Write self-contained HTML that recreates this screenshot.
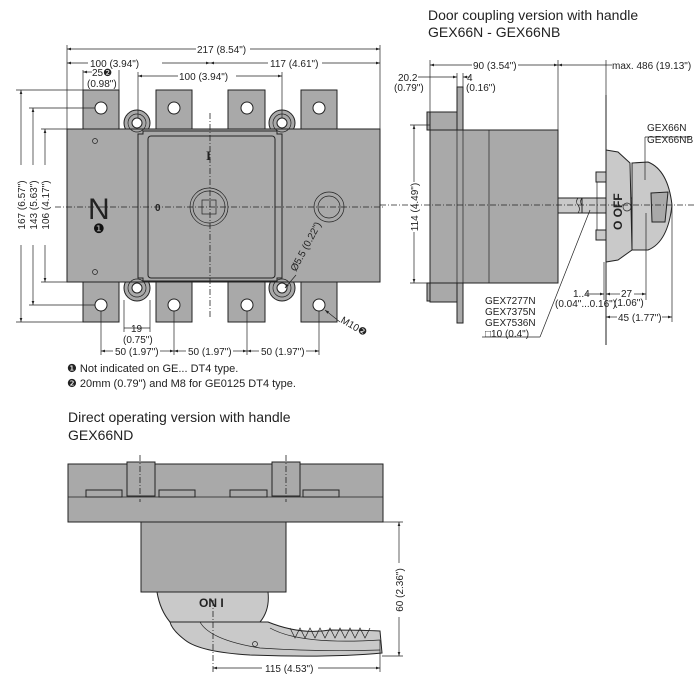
<!DOCTYPE html>
<html><head><meta charset="utf-8"><style>
html,body{margin:0;padding:0;background:#fff;}
svg{display:block;font-family:"Liberation Sans",sans-serif;}
.g{fill:#a9a9a9;stroke:#222;stroke-width:1}
.l{fill:#c9c9c9;stroke:#222;stroke-width:1}
.d{stroke:#222;stroke-width:0.7;fill:none}
.c{stroke:#222;stroke-width:0.8;fill:none;stroke-dasharray:6 2 1 2}
.t{font-size:10px;fill:#222}
</style></head><body>
<svg width="700" height="686" viewBox="0 0 700 686" xmlns="http://www.w3.org/2000/svg">
<defs><marker id="a" viewBox="0 0 6 6" refX="6" refY="3" markerWidth="6" markerHeight="6" orient="auto-start-reverse"><path d="M0,1 L6,3 L0,5z" fill="#222"/></marker></defs>

<!-- ===== FRONT VIEW ===== -->
<g>
<rect class="g" x="83" y="90" width="36" height="40"/>
<rect class="g" x="156" y="90" width="36" height="40"/>
<rect class="g" x="228" y="90" width="37" height="40"/>
<rect class="g" x="301" y="90" width="36" height="40"/>
<rect class="g" x="83" y="281" width="36" height="41"/>
<rect class="g" x="156" y="281" width="36" height="41"/>
<rect class="g" x="228" y="281" width="37" height="41"/>
<rect class="g" x="301" y="281" width="36" height="41"/>
<circle class="g" cx="137" cy="123" r="13"/><circle class="g" cx="282" cy="123" r="13"/>
<circle class="g" cx="137" cy="288" r="13"/><circle class="g" cx="282" cy="288" r="13"/>
<rect class="g" x="67" y="129" width="313" height="153"/>
<path class="g" d="M138,134 h5 v-3 h134 v3 h5 v144 h-5 v3 h-134 v-3 h-5z"/>
<rect class="g" x="148" y="136" width="127" height="142" rx="3"/>
<g fill="#fff" stroke="#222">
<circle cx="101" cy="108" r="6"/><circle cx="174" cy="108" r="6"/><circle cx="247" cy="108" r="6"/><circle cx="319" cy="108" r="6"/>
<circle cx="101" cy="305" r="6"/><circle cx="174" cy="305" r="6"/><circle cx="247" cy="305" r="6"/><circle cx="319" cy="305" r="6"/>
<circle cx="137" cy="123" r="5"/><circle cx="282" cy="123" r="5"/><circle cx="137" cy="288" r="5"/><circle cx="282" cy="288" r="5"/>
</g>
<g class="d"><circle cx="137" cy="123" r="9"/><circle cx="282" cy="123" r="9"/><circle cx="137" cy="288" r="9"/><circle cx="282" cy="288" r="9"/>
<circle cx="95" cy="141" r="2.5"/><circle cx="95" cy="272" r="2.5"/>
<circle cx="209" cy="207" r="19"/><circle cx="209" cy="207" r="16"/><rect x="202" y="200" width="14" height="14"/>
<circle cx="329" cy="207" r="15"/><circle cx="329" cy="207" r="11"/></g>
<line class="c" x1="55" y1="207" x2="385" y2="207"/>
<line class="c" x1="210" y1="113" x2="210" y2="318"/>
<text x="88" y="219" font-size="30" fill="#222">N</text>
<text x="93" y="233" font-size="13" fill="#111">❶</text>
<text x="206" y="160" font-size="13" font-weight="bold" font-family="Liberation Serif" fill="#222">I</text>
<text x="155" y="211" font-size="10" font-weight="bold" fill="#222">0</text>

<!-- dims -->
<g class="d">
<line x1="67" y1="45" x2="67" y2="129"/><line x1="380" y1="45" x2="380" y2="129"/>
<line x1="67" y1="49" x2="196" y2="49" marker-start="url(#a)"/><line x1="250" y1="49" x2="380" y2="49" marker-end="url(#a)"/>
<line x1="67" y1="63" x2="88" y2="63" marker-start="url(#a)"/><line x1="162" y1="63" x2="210" y2="63" marker-end="url(#a)"/>
<line x1="210" y1="63" x2="268" y2="63" marker-start="url(#a)"/><line x1="322" y1="63" x2="380" y2="63" marker-end="url(#a)"/>
<line x1="138" y1="72" x2="138" y2="118"/><line x1="282" y1="72" x2="282" y2="118"/>
<line x1="138" y1="76" x2="178" y2="76" marker-start="url(#a)"/><line x1="236" y1="76" x2="282" y2="76" marker-end="url(#a)"/>
<line x1="83" y1="70" x2="83" y2="90"/><line x1="119" y1="70" x2="119" y2="90"/>
<line x1="83" y1="72" x2="92" y2="72" marker-start="url(#a)"/>
<line x1="16" y1="90" x2="83" y2="90"/><line x1="16" y1="322" x2="83" y2="322"/>
<line x1="21" y1="90" x2="21" y2="165" marker-start="url(#a)"/><line x1="21" y1="245" x2="21" y2="322" marker-end="url(#a)"/>
<line x1="29" y1="108" x2="95" y2="108"/><line x1="29" y1="305" x2="95" y2="305"/>
<line x1="33" y1="108" x2="33" y2="165" marker-start="url(#a)"/><line x1="33" y1="245" x2="33" y2="305" marker-end="url(#a)"/>
<line x1="41" y1="129" x2="67" y2="129"/><line x1="41" y1="282" x2="67" y2="282"/>
<line x1="45" y1="129" x2="45" y2="165" marker-start="url(#a)"/><line x1="45" y1="245" x2="45" y2="282" marker-end="url(#a)"/>
<line x1="124" y1="300" x2="124" y2="332"/><line x1="150" y1="300" x2="150" y2="332"/>
<line x1="124" y1="328" x2="150" y2="328"/>
<line x1="101" y1="311" x2="101" y2="355"/><line x1="174" y1="311" x2="174" y2="355"/><line x1="247" y1="311" x2="247" y2="355"/><line x1="319" y1="311" x2="319" y2="355"/>
<line x1="101" y1="351" x2="113" y2="351" marker-start="url(#a)"/><line x1="160" y1="351" x2="174" y2="351" marker-end="url(#a)"/>
<line x1="174" y1="351" x2="186" y2="351" marker-start="url(#a)"/><line x1="233" y1="351" x2="247" y2="351" marker-end="url(#a)"/>
<line x1="247" y1="351" x2="259" y2="351" marker-start="url(#a)"/><line x1="306" y1="351" x2="319" y2="351" marker-end="url(#a)"/>
<line x1="340" y1="322" x2="325" y2="310" marker-end="url(#a)"/>
<line x1="296" y1="275" x2="285" y2="288" marker-end="url(#a)"/>
</g>
<text class="t" x="197" y="53">217 (8.54")</text>
<text class="t" x="90" y="67">100 (3.94")</text>
<text class="t" x="270" y="67">117 (4.61")</text>
<text class="t" x="179" y="80">100 (3.94")</text>
<text class="t" x="92" y="76">25❷</text>
<text class="t" x="87" y="87">(0.98")</text>
<text class="t" transform="translate(25,205) rotate(-90)" text-anchor="middle">167 (6.57")</text>
<text class="t" transform="translate(37,205) rotate(-90)" text-anchor="middle">143 (5.63")</text>
<text class="t" transform="translate(49,205) rotate(-90)" text-anchor="middle">106 (4.17")</text>
<text class="t" x="131" y="332">19</text>
<text class="t" x="123" y="343">(0.75")</text>
<text class="t" x="115" y="355">50 (1.97")</text>
<text class="t" x="188" y="355">50 (1.97")</text>
<text class="t" x="261" y="355">50 (1.97")</text>
<text class="t" transform="translate(340,322) rotate(30)">M10❷</text>
<text class="t" transform="translate(296,272) rotate(-62)">Ø5.5 (0.22")</text>
<text x="67" y="372" font-size="11" fill="#222">❶ Not indicated on GE... DT4 type.</text>
<text x="67" y="387" font-size="11" fill="#222">❷ 20mm (0.79") and M8 for GE0125 DT4 type.</text>
</g>

<!-- ===== SIDE VIEW ===== -->
<g>
<text x="428" y="20" font-size="14" fill="#222">Door coupling version with handle</text>
<text x="428" y="37" font-size="14" fill="#222">GEX66N - GEX66NB</text>
<rect class="g" x="427" y="112" width="4" height="18"/><rect class="g" x="427" y="283" width="4" height="18"/>
<rect class="g" x="430" y="112" width="27" height="190"/>
<rect class="g" x="457" y="87" width="6" height="236"/>
<rect class="g" x="430" y="130" width="128" height="153"/>
<line class="d" x1="457" y1="130" x2="457" y2="283"/><line class="d" x1="463" y1="130" x2="463" y2="283"/><line class="d" x1="489" y1="130" x2="489" y2="283"/>
<rect class="l" x="558" y="198" width="40" height="15"/>
<path d="M578,198 q-3,4 0,7 q3,4 0,8" class="d"/>
<path d="M582,198 q-3,4 0,7 q3,4 0,8" class="d"/>
<rect class="l" x="582" y="198" width="64" height="15" stroke="#222"/>
<line x1="606" y1="95" x2="606" y2="345" stroke="#222" stroke-width="1"/>
<rect class="l" x="596" y="172" width="10" height="10"/><rect class="l" x="596" y="230" width="10" height="10"/>
<line class="d" x1="597" y1="182" x2="597" y2="230"/>
<path class="l" d="M606,150 L618,152 L630,163 L632,250 L618,260 L606,262z"/>
<path class="l" d="M632,163 L648,162 Q668,170 672,205 Q668,242 648,250 L632,250z"/>
<path class="g" d="M651,193 L668,192 L665,222 L652,222z"/>
<line class="d" x1="632" y1="163" x2="632" y2="250"/>
<circle class="d" cx="627" cy="207" r="4"/>
<text transform="translate(622,230) rotate(-90)" font-size="12" font-weight="bold" fill="#222">O OFF</text>
<line class="c" x1="380" y1="205" x2="695" y2="205"/>
<g class="d">
<line x1="430" y1="60" x2="430" y2="112"/><line x1="558" y1="60" x2="558" y2="130"/><line x1="606" y1="60" x2="606" y2="130"/>
<line x1="430" y1="65" x2="472" y2="65" marker-start="url(#a)"/><line x1="518" y1="65" x2="558" y2="65" marker-end="url(#a)"/>
<line x1="558" y1="65" x2="606" y2="65" marker-start="url(#a)"/><line x1="606" y1="65" x2="612" y2="65"/>
<line x1="457" y1="73" x2="457" y2="87"/><line x1="463" y1="73" x2="463" y2="87"/>
<line x1="418" y1="77" x2="457" y2="77" marker-end="url(#a)"/><line x1="463" y1="77" x2="470" y2="77" marker-start="url(#a)"/>
<line x1="410" y1="125" x2="430" y2="125"/><line x1="410" y1="283" x2="430" y2="283"/>
<line x1="414" y1="125" x2="414" y2="182" marker-start="url(#a)"/><line x1="414" y1="232" x2="414" y2="283" marker-end="url(#a)"/>
<line x1="646" y1="213" x2="646" y2="300"/><line x1="672" y1="205" x2="672" y2="322"/><line x1="606" y1="262" x2="606" y2="320"/><line x1="604" y1="262" x2="604" y2="300"/>
<line x1="585" y1="294" x2="604" y2="294" marker-end="url(#a)"/>
<line x1="606" y1="294" x2="620" y2="294" marker-start="url(#a)"/><line x1="634" y1="294" x2="646" y2="294" marker-end="url(#a)"/>
<line x1="606" y1="317" x2="617" y2="317" marker-start="url(#a)"/><line x1="662" y1="317" x2="672" y2="317" marker-end="url(#a)"/>
<line x1="645" y1="137" x2="690" y2="137"/><line x1="645" y1="137" x2="645" y2="180"/>
<line x1="482" y1="337" x2="540" y2="337"/><line x1="540" y1="337" x2="590" y2="210"/>
</g>
<text class="t" x="473" y="69">90 (3.54")</text>
<text class="t" x="612" y="69">max. 486 (19.13")</text>
<text class="t" x="398" y="81">20.2</text>
<text class="t" x="394" y="91">(0.79")</text>
<text class="t" x="467" y="81">4</text>
<text class="t" x="466" y="91">(0.16")</text>
<text class="t" transform="translate(418,207) rotate(-90)" text-anchor="middle">114 (4.49")</text>
<text class="t" x="647" y="131">GEX66N</text>
<text class="t" x="647" y="143">GEX66NB</text>
<text class="t" x="573" y="297">1..4</text>
<text class="t" x="555" y="307">(0.04"...0.16")</text>
<text class="t" x="621" y="297">27</text>
<text class="t" x="614" y="306">(1.06")</text>
<text class="t" x="618" y="321">45 (1.77")</text>
<text class="t" x="485" y="304">GEX7277N</text>
<text class="t" x="485" y="315">GEX7375N</text>
<text class="t" x="485" y="326">GEX7536N</text>
<text class="t" x="485" y="337">□10 (0.4")</text>
</g>

<!-- ===== BOTTOM VIEW ===== -->
<g>
<text x="68" y="422" font-size="14" fill="#222">Direct operating version with handle</text>
<text x="68" y="440" font-size="14" fill="#222">GEX66ND</text>
<rect class="g" x="68" y="464" width="315" height="58"/>
<line class="d" x1="68" y1="497" x2="383" y2="497"/>
<rect class="g" x="86" y="490" width="36" height="7"/><rect class="g" x="159" y="490" width="36" height="7"/>
<rect class="g" x="230" y="490" width="37" height="7"/><rect class="g" x="303" y="490" width="36" height="7"/>
<rect class="g" x="127" y="462" width="28" height="34"/><rect class="g" x="272" y="462" width="28" height="34"/>
<line class="c" x1="140" y1="455" x2="140" y2="502"/><line class="c" x1="286" y1="455" x2="286" y2="502"/>
<rect class="g" x="141" y="522" width="145" height="70"/>
<path class="l" d="M157,592 L268,592 Q270,610 260,622 L170,622 Q160,610 157,592z"/>
<path class="l" d="M170,622 L268,622 Q300,635 330,630 Q360,630 380,631 L382,653 Q330,658 250,655 Q200,652 185,640 Q172,630 170,622z"/>
<path d="M270,628 Q300,645 380,640" class="d"/>
<path d="M200,622 Q210,640 260,648 Q320,652 380,650" class="d"/>
<path d="M290,628 l5,10 l5,-10 l5,10 l5,-10 l5,10 l5,-10 l5,10 l5,-10 l5,10 l5,-10 l5,10 l5,-10 l5,10 l5,-10 l5,10 l5,-10" class="d"/>
<circle class="d" cx="255" cy="644" r="2.5"/>
<text x="199" y="607" font-size="12" font-weight="bold" fill="#222">ON I</text>
<g class="d">
<line x1="286" y1="522" x2="403" y2="522"/><line x1="382" y1="656" x2="403" y2="656"/>
<line x1="399" y1="522" x2="399" y2="563" marker-start="url(#a)"/><line x1="399" y1="617" x2="399" y2="656" marker-end="url(#a)"/>
<line x1="380" y1="640" x2="380" y2="672"/>
<line x1="213" y1="668" x2="262" y2="668" marker-start="url(#a)"/><line x1="318" y1="668" x2="380" y2="668" marker-end="url(#a)"/>
</g>
<line class="c" x1="213" y1="600" x2="213" y2="672"/>
<text class="t" transform="translate(403,590) rotate(-90)" text-anchor="middle">60 (2.36")</text>
<text class="t" x="265" y="672">115 (4.53")</text>
</g>
</svg>
</body></html>
